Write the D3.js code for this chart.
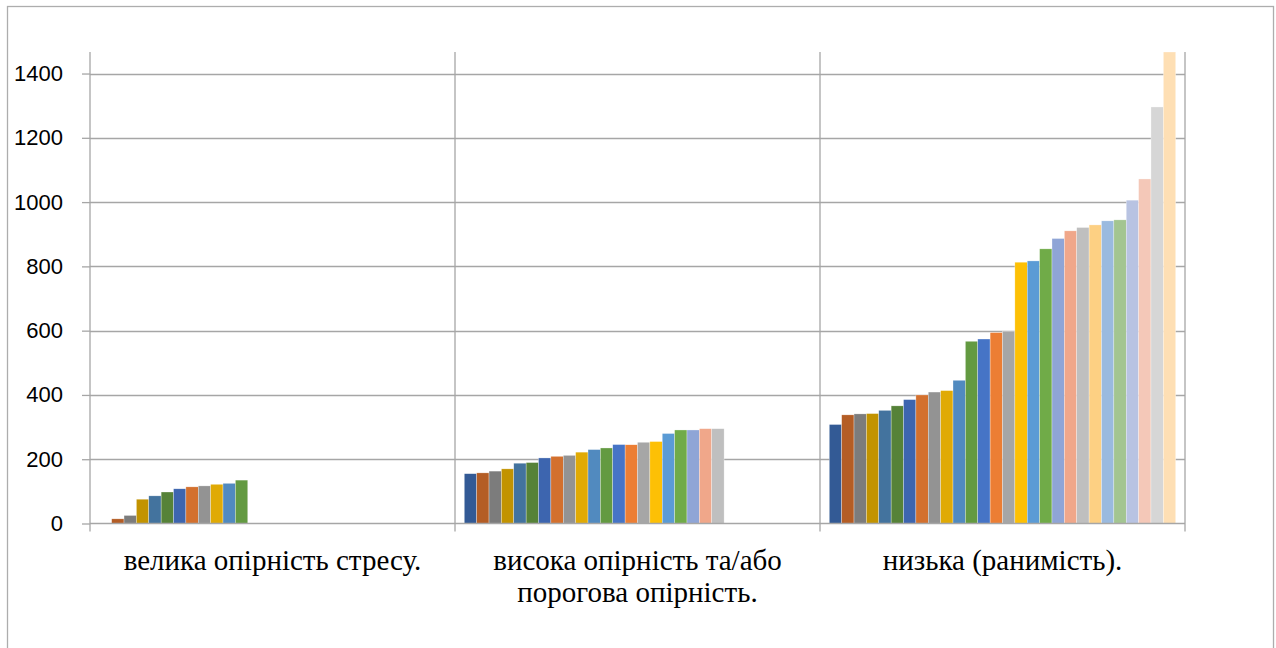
<!DOCTYPE html>
<html><head><meta charset="utf-8">
<script src="https://cdn.jsdelivr.net/npm/d3@7"></script>
<style>html,body{margin:0;padding:0;background:#fff;}svg{display:block;}</style>
</head><body>
<svg id="chart" width="1276" height="648"></svg>
<script>
const categories = [
  ["велика опірність стресу."],
  ["висока опірність та/або", "порогова опірність."],
  ["низька (ранимість)."]
];
const categoryKeys = ["c1", "c2", "c3"];
const seriesNames = d3.range(1, 29).map(i => "S" + i);
const groupValues1 = [0, 14.5, 25, 75.6, 86, 98, 108, 114, 117, 122, 125, 135,
  null, null, null, null, null, null, null, null, null, null, null, null, null, null, null, null];
const groupValues2 = [155, 157.5, 163, 170, 187.6, 189.6, 204, 209, 212, 222, 230, 235, 245.6, 245, 252.8, 255, 280, 291, 291, 295, 295,
  null, null, null, null, null, null, null];
const groupValues3 = [308, 338, 341, 342, 352, 366, 385.5, 400, 409, 413.5, 445.6, 567, 574, 594, 598, 813, 817, 854.5, 886.7, 910.5, 921, 929, 941.6, 944.7, 1006, 1072, 1296, 1467];
const yTicks = [0, 200, 400, 600, 800, 1000, 1200, 1400];
const colors = ["#335A95","#B45D25","#7C7C7C","#C29300","#43739E","#568238",
  "#3D65AF","#D3702E","#939393","#E0AA05","#518ABF","#639A41",
  "#4674C6","#EC7E34","#A6A6A6","#FDC005","#5B9BD5","#70AB48",
  "#8FA5D6","#F0A78A","#BFBFBF","#FDD083","#9ABADF","#A3C591",
  "#B8C3E2","#F4C8B8","#D6D6D6","#FEDFB4"];

const allValues = [groupValues1, groupValues2, groupValues3];
const svg = d3.select("#chart");
const pLeft = 90, pRight = 1185, pTop = 52, pBottom = 523.5;
const gridColor = "#A6A6A6";

// chart border
svg.append("rect").attr("x", 7.5).attr("y", 6.5).attr("width", 1266).attr("height", 660)
  .attr("fill", "none").attr("stroke", "#ADADAD").attr("stroke-width", 1.3);

const x0 = d3.scaleBand().domain(categoryKeys).range([pLeft, pRight]).padding(0);
const x1 = d3.scaleBand().domain(seriesNames).range([0, x0.bandwidth()]).paddingInner(0).paddingOuter(0.75);
const y = d3.scaleLinear().domain([0, 1467]).range([pBottom, pTop]);

// horizontal gridlines
svg.append("g").selectAll("line").data(yTicks.filter(t => t > 0)).join("line")
  .attr("x1", pLeft).attr("x2", pRight)
  .attr("y1", d => Math.round(y(d)) + 0.5).attr("y2", d => Math.round(y(d)) + 0.5)
  .attr("stroke", gridColor).attr("stroke-width", 1.3);

// vertical gridlines at category boundaries
const bounds = categoryKeys.map(k => x0(k) + x0.bandwidth());
svg.append("g").selectAll("line").data(bounds).join("line")
  .attr("x1", d => d).attr("x2", d => d).attr("y1", pTop).attr("y2", pBottom + 8)
  .attr("stroke", gridColor).attr("stroke-width", 1.3);

// bars
const groups = svg.append("g").selectAll("g").data(allValues).join("g")
  .attr("transform", (d, i) => `translate(${x0(categoryKeys[i])},0)`);
groups.selectAll("rect").data(d => d.map((v, j) => ({v, j})).filter(o => o.v !== null && o.v > 0)).join("rect")
  .attr("x", o => x1(seriesNames[o.j]))
  .attr("width", x1.bandwidth())
  .attr("y", o => y(o.v))
  .attr("height", o => y(0) - y(o.v))
  .attr("fill", o => colors[o.j])
  .attr("stroke", "#ffffff").attr("stroke-width", 0.5).attr("stroke-opacity", 0.6);

// x axis line (baseline)
svg.append("line").attr("x1", pLeft).attr("x2", pRight).attr("y1", pBottom).attr("y2", pBottom)
  .attr("stroke", gridColor).attr("stroke-width", 1.5);

// y axis
const yAxis = d3.axisLeft(y).tickValues(yTicks).tickSize(8).tickPadding(19).tickFormat(d3.format("d"));
const ya = svg.append("g").attr("transform", `translate(${pLeft},0)`).call(yAxis);
ya.select(".domain").remove();
ya.selectAll(".tick line").attr("stroke", gridColor).attr("stroke-width", 1.3);
ya.selectAll(".tick text").attr("font-family", "'Liberation Sans', Arial, sans-serif")
  .attr("font-size", 22).attr("fill", "#000");
svg.append("line").attr("x1", pLeft).attr("x2", pLeft).attr("y1", pTop).attr("y2", pBottom + 8)
  .attr("stroke", gridColor).attr("stroke-width", 1.3);

// category labels
const lab = svg.append("g").selectAll("text").data(categories).join("text")
  .attr("x", (d, i) => x0(categoryKeys[i]) + x0.bandwidth() / 2)
  .attr("y", 570)
  .attr("text-anchor", "middle")
  .attr("font-family", "'Liberation Serif', 'Times New Roman', serif")
  .attr("font-size", 29).attr("fill", "#000");
lab.selectAll("tspan").data(d => d).join("tspan")
  .attr("x", function() { return d3.select(this.parentNode).attr("x"); })
  .attr("dy", (d, i) => i === 0 ? 0 : 32)
  .text(d => d);
</script>
</body></html>
